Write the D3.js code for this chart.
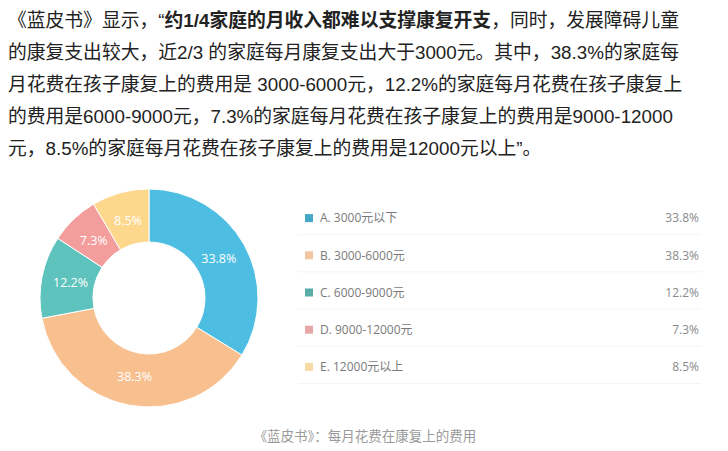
<!DOCTYPE html>
<html><head><meta charset="utf-8">
<script src="https://cdn.jsdelivr.net/npm/d3@7/dist/d3.min.js"></script>
<style>
html,body{margin:0;padding:0;background:#fff;}
svg{display:block;}
</style></head>
<body>
<svg id="chart" width="728" height="451"></svg>
<script>
// ---- data ----
const categories = ["A. 3000元以下", "B. 3000-6000元", "C. 6000-9000元", "D. 9000-12000元", "E. 12000元以上"];
const values = [33.8, 38.3, 12.2, 7.3, 8.5];
const valueLabels = ["33.8%", "38.3%", "12.2%", "7.3%", "8.5%"];
const paragraphLines = [
  [["《蓝皮书》显示，“", false], ["约1/4家庭的月收入都难以支撑康复开支", true], ["，同时，发展障碍儿童", false]],
  [["的康复支出较大，近2/3 的家庭每月康复支出大于3000元。其中，38.3%的家庭每", false]],
  [["月花费在孩子康复上的费用是 3000-6000元，12.2%的家庭每月花费在孩子康复上", false]],
  [["的费用是6000-9000元，7.3%的家庭每月花费在孩子康复上的费用是9000-12000", false]],
  [["元，8.5%的家庭每月花费在孩子康复上的费用是12000元以上”。", false]]
];
const caption = "《蓝皮书》：每月花费在康复上的费用";

// ---- styles ----
const sliceColors = ["#4dbde2", "#f8c08f", "#5ec3bc", "#f39d9c", "#fdd78c"];
const legendColors = ["#45a9c6", "#f1c7a4", "#5aaca7", "#e4a7a6", "#f6dba3"];
const cjk = "'Liberation Sans', Arial, 'Noto Sans CJK SC', sans-serif";

const svg = d3.select("#chart");

// paragraph
const para = svg.append("g");
paragraphLines.forEach((segs, i) => {
  const t = para.append("text")
    .attr("x", 8)
    .attr("y", 20 + i * 32)
    .attr("dy", "0.36em")
    .attr("font-family", cjk)
    .attr("font-size", 18.8)
    .attr("fill", "#222");
  segs.forEach(([s, b]) => {
    t.append("tspan").attr("font-weight", b ? "bold" : "normal").text(s);
  });
});

// donut
const cx = 149, cy = 298, rOuter = 109, rInner = 56;
const pie = d3.pie().sort(null).value(d => d)(values);
const arc = d3.arc().innerRadius(rInner).outerRadius(rOuter);
const labelArc = d3.arc().innerRadius(80).outerRadius(80);
const g = svg.append("g").attr("transform", `translate(${cx},${cy})`);
g.selectAll("path").data(pie).join("path")
  .attr("d", arc)
  .attr("fill", (d, i) => sliceColors[i])
  .attr("stroke", "#fff")
  .attr("stroke-width", 1);
g.selectAll("text").data(pie).join("text")
  .attr("transform", d => `translate(${labelArc.centroid(d)})`)
  .attr("text-anchor", "middle")
  .attr("dy", "0.35em")
  .attr("font-family", "'Open Sans', 'Noto Sans', sans-serif")
  .attr("font-size", 12.5)
  .attr("fill", "#fff")
  .text((d, i) => valueLabels[i]);

// legend
const y = d3.scaleBand().domain(categories).range([199.5, 385.5]);
const leg = svg.append("g");
const rows = leg.selectAll("g").data(categories).join("g")
  .attr("transform", d => `translate(0,${y(d) + y.bandwidth() / 2})`);
rows.append("rect")
  .attr("x", 305).attr("y", -4).attr("width", 8).attr("height", 8)
  .attr("fill", (d, i) => legendColors[i]);
rows.append("text")
  .attr("x", 320).attr("dy", "0.35em")
  .attr("font-family", "'Open Sans', 'Noto Sans CJK SC', sans-serif")
  .attr("font-size", 12)
  .attr("fill", "#7a7a7a")
  .text(d => d);
rows.append("text")
  .attr("x", 699).attr("dy", "0.35em")
  .attr("text-anchor", "end")
  .attr("font-family", "'Open Sans', 'Noto Sans', sans-serif")
  .attr("font-size", 12)
  .attr("fill", "#8a8a8a")
  .text((d, i) => valueLabels[i]);
rows.append("line")
  .attr("x1", 298).attr("x2", 701)
  .attr("y1", y.bandwidth() / 2 - 2).attr("y2", y.bandwidth() / 2 - 2)
  .attr("stroke", "#f4f4f4").attr("stroke-width", 1);

// caption
svg.append("text")
  .attr("x", 365).attr("y", 436).attr("dy", "0.35em")
  .attr("text-anchor", "middle")
  .attr("font-family", "'Noto Sans CJK SC', sans-serif")
  .attr("font-size", 13.5)
  .attr("fill", "#9a9a9a")
  .text(caption);
</script>
</body></html>
